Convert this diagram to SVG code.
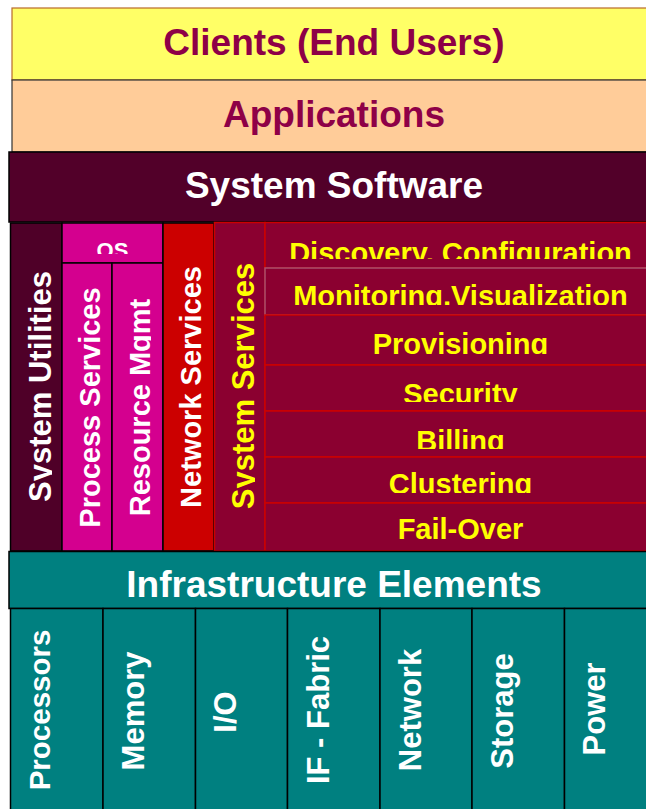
<svg xmlns="http://www.w3.org/2000/svg" width="646" height="809" viewBox="0 0 646 809">
<style>
text{font-family:"Liberation Sans",Arial,sans-serif;font-weight:bold}
.big{font-size:37px;text-anchor:middle}
.mar{fill:#8E0047}
.wht{fill:#FFFFFF}
.yel{fill:#FFFF00}
.blk{stroke:#000000;stroke-width:1.5}
.red{stroke:#CC0000;stroke-width:1.5}
.row{fill:#8B0030}
.mag{fill:#D4008F}
.teal{fill:#008080}
.vt{text-anchor:middle}
.rt{font-size:29px;text-anchor:middle}
</style>
<defs>
<clipPath id="cOS"><rect x="63" y="224" width="99" height="30"/></clipPath>
<clipPath id="cSU"><rect x="11" y="224" width="41" height="326"/></clipPath>
<clipPath id="cRM"><rect x="113" y="264" width="38" height="286"/></clipPath>
<clipPath id="cSS"><rect x="215" y="224" width="40" height="326"/></clipPath>
<clipPath id="c1"><rect x="266" y="224" width="380" height="35"/></clipPath>
<clipPath id="c2"><rect x="266" y="269" width="380" height="36"/></clipPath>
<clipPath id="c3"><rect x="266" y="316" width="380" height="38"/></clipPath>
<clipPath id="c4"><rect x="266" y="366" width="380" height="36"/></clipPath>
<clipPath id="c5"><rect x="266" y="412" width="380" height="37"/></clipPath>
<clipPath id="c6"><rect x="266" y="458" width="380" height="35"/></clipPath>
<clipPath id="c7"><rect x="266" y="504" width="380" height="46"/></clipPath>
</defs>

<g id="connectors"></g>

<g id="clients">
<rect x="12" y="8" width="640" height="72" fill="#FFFF66" stroke="#B86A2A" stroke-width="1.2"/>
<text class="big mar" x="334" y="55">Clients (End Users)</text>
</g>

<g id="applications">
<rect x="12" y="80" width="640" height="72" fill="#FFCC99" stroke="#333333" stroke-width="1.2"/>
<text class="big mar" x="334" y="127">Applications</text>
</g>

<g id="system-software">
<rect x="9" y="152" width="640" height="70" fill="#520029" class="blk"/>
<text class="big wht" x="334" y="198">System Software</text>
</g>

<g id="system-utilities">
<rect x="10.5" y="223" width="51.5" height="328" fill="#4F0028" class="blk"/>
<g clip-path="url(#cSU)"><text class="vt wht" font-size="31" transform="translate(51,386.5) rotate(-90)">System Utilities</text></g>
</g>

<g id="os">
<rect x="62" y="223" width="101" height="40" class="mag blk"/>
<g clip-path="url(#cOS)"><text class="wht" font-size="22" text-anchor="middle" x="112.5" y="257.5">OS</text></g>
</g>

<g id="process-services">
<rect x="62" y="263" width="50" height="288" class="mag blk"/>
<text class="vt wht" font-size="29" transform="translate(100,407.5) rotate(-90)">Process Services</text>
</g>

<g id="resource-mgmt">
<rect x="112" y="263" width="51" height="288" class="mag blk"/>
<g clip-path="url(#cRM)"><text class="vt wht" font-size="29" transform="translate(150,407.5) rotate(-90)">Resource Mgmt</text></g>
</g>

<g id="network-services">
<rect x="163" y="223" width="51" height="328" fill="#CC0000" class="blk"/>
<text class="vt wht" font-size="29" transform="translate(201,387) rotate(-90)">Network Services</text>
</g>

<g id="system-services">
<rect x="214.5" y="222.5" width="50.5" height="328.5" class="row red"/>
<g clip-path="url(#cSS)"><text class="vt yel" font-size="31" transform="translate(254,386) rotate(-90)">System Services</text></g>
</g>

<g id="discovery">
<rect x="265" y="222.5" width="385" height="45.5" class="row red"/>
<g clip-path="url(#c1)"><text class="rt yel" x="460.5" y="263">Discovery, Configuration</text></g>
</g>

<g id="monitoring">
<rect x="265" y="268" width="385" height="47" class="row" stroke="#A8506E" stroke-width="1.5"/>
<g clip-path="url(#c2)"><text class="rt yel" x="460.5" y="306">Monitoring,Visualization</text></g>
</g>

<g id="provisioning">
<rect x="265" y="315" width="385" height="50" class="row red"/>
<g clip-path="url(#c3)"><text class="rt yel" x="460.5" y="354">Provisioning</text></g>
</g>

<g id="security">
<rect x="265" y="365" width="385" height="46" class="row red"/>
<g clip-path="url(#c4)"><text class="rt yel" x="460.5" y="404">Security</text></g>
</g>

<g id="billing">
<rect x="265" y="411" width="385" height="46" class="row red"/>
<g clip-path="url(#c5)"><text class="rt yel" x="460.5" y="451">Billing</text></g>
</g>

<g id="clustering">
<rect x="265" y="457" width="385" height="46" class="row red"/>
<g clip-path="url(#c6)"><text class="rt yel" x="460.5" y="494">Clustering</text></g>
</g>

<g id="fail-over">
<rect x="265" y="503" width="385" height="48" class="row red"/>
<g clip-path="url(#c7)"><text class="rt yel" x="460.5" y="539">Fail-Over</text></g>
</g>

<g id="infrastructure">
<rect x="9" y="551.5" width="640" height="57" class="teal blk"/>
<text class="big wht" x="334" y="597">Infrastructure Elements</text>
</g>

<g id="processors">
<rect x="10.5" y="608.5" width="92.5" height="205" class="teal blk"/>
<text class="vt wht" font-size="29.5" transform="translate(50,710) rotate(-90)">Processors</text>
</g>
<g id="memory">
<rect x="103" y="608.5" width="92.5" height="205" class="teal blk"/>
<text class="vt wht" font-size="31" transform="translate(144,711) rotate(-90)">Memory</text>
</g>
<g id="io">
<rect x="195.5" y="608.5" width="92" height="205" class="teal blk"/>
<text class="vt wht" font-size="31" transform="translate(236,712) rotate(-90)">I/O</text>
</g>
<g id="if-fabric">
<rect x="287.5" y="608.5" width="92.5" height="205" class="teal blk"/>
<text class="vt wht" font-size="31" transform="translate(329,710) rotate(-90)">IF - Fabric</text>
</g>
<g id="network">
<rect x="380" y="608.5" width="92" height="205" class="teal blk"/>
<text class="vt wht" font-size="31" transform="translate(421,710) rotate(-90)">Network</text>
</g>
<g id="storage">
<rect x="472" y="608.5" width="92.5" height="205" class="teal blk"/>
<text class="vt wht" font-size="31" transform="translate(513,711) rotate(-90)">Storage</text>
</g>
<g id="power">
<rect x="564.5" y="608.5" width="90" height="205" class="teal blk"/>
<text class="vt wht" font-size="31" transform="translate(605,709) rotate(-90)">Power</text>
</g>
</svg>
